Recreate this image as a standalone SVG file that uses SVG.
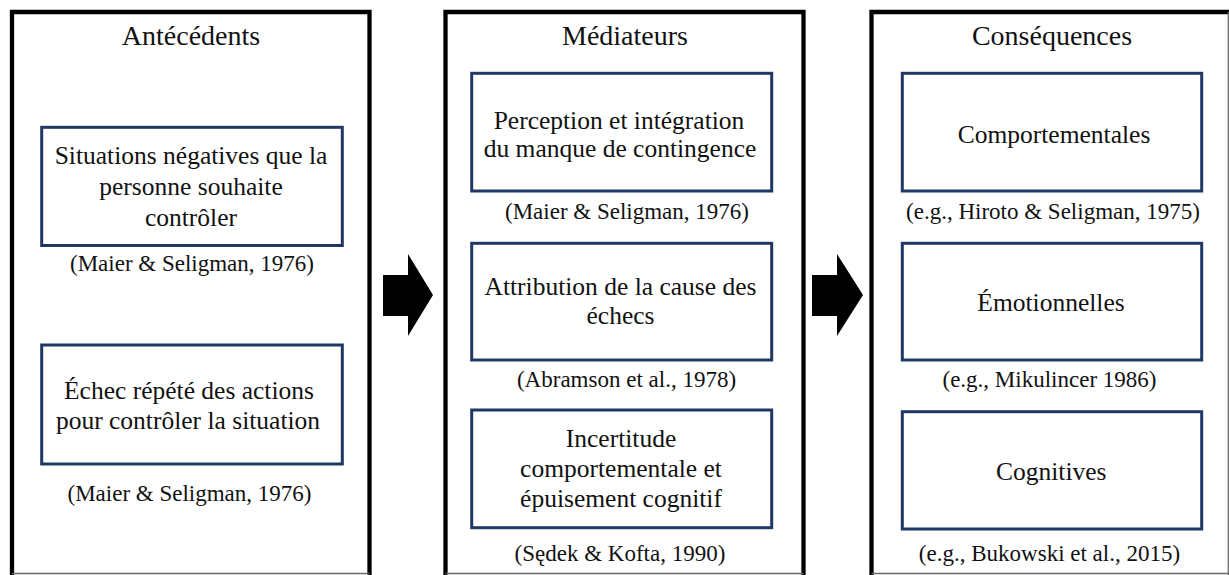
<svg xmlns="http://www.w3.org/2000/svg" width="1229" height="575" viewBox="0 0 1229 575">
<style>
.outer{fill:none;stroke:#000;stroke-width:4.3;stroke-linejoin:miter}
.edge{stroke:#6a6a6a;stroke-width:1.3;fill:none}
.box{fill:#fff;stroke:#1f3864;stroke-width:3}
text{font-family:"Liberation Serif","Times New Roman",serif;fill:#111;text-anchor:middle}
.title{font-size:28px}
.body{font-size:25.5px}
.cite{font-size:23px}
.arrow{fill:#000}
</style>
<rect width="1229" height="575" fill="#fff"/>

<g id="col-antecedents">
<path class="outer" d="M12,575 V12 H369.5 V575"/>
<line class="edge" x1="12" y1="573.5" x2="369.5" y2="573.5"/>
<text class="title" x="191" y="45">Antécédents</text>
</g>
<g id="col-mediateurs">
<path class="outer" d="M445.5,575 V12 H803.5 V575"/>
<line class="edge" x1="445.5" y1="573.5" x2="803.5" y2="573.5"/>
<text class="title" x="625" y="45">Médiateurs</text>
</g>
<g id="col-consequences">
<path class="outer" d="M871.5,575 V12 H1229"/>
<line class="edge" x1="871.5" y1="573.5" x2="1229" y2="573.5"/>
<line class="edge" x1="1228.3" y1="12" x2="1228.3" y2="575"/>
<text class="title" x="1052" y="45">Conséquences</text>
</g>

<g id="a1">
<rect class="box" x="41.7" y="127.3" width="300.6" height="118.2"/>
<text class="body" x="191" y="164.4">Situations négatives que la</text>
<text class="body" x="191" y="195.4">personne souhaite</text>
<text class="body" x="191" y="226.4">contrôler</text>
<text class="cite" x="192" y="271">(Maier &amp; Seligman, 1976)</text>
</g>
<g id="a2">
<rect class="box" x="41.7" y="345" width="300.6" height="119"/>
<text class="body" x="189" y="399">Échec répété des actions</text>
<text class="body" x="188" y="428.5">pour contrôler la situation</text>
<text class="cite" x="189.5" y="501">(Maier &amp; Seligman, 1976)</text>
</g>

<g id="m1">
<rect class="box" x="471.7" y="73.3" width="300" height="117.7"/>
<text class="body" x="619" y="128.5">Perception et intégration</text>
<text class="body" x="620" y="157">du manque de contingence</text>
<text class="cite" x="627" y="218.5">(Maier &amp; Seligman, 1976)</text>
</g>
<g id="m2">
<rect class="box" x="471.7" y="243.3" width="300" height="116.7"/>
<text class="body" x="620.5" y="294.5">Attribution de la cause des</text>
<text class="body" x="620.5" y="323.5">échecs</text>
<text class="cite" x="626.5" y="387">(Abramson et al., 1978)</text>
</g>
<g id="m3">
<rect class="box" x="471.7" y="410" width="300" height="117.7"/>
<text class="body" x="621" y="447.3">Incertitude</text>
<text class="body" x="621" y="477.3">comportementale et</text>
<text class="body" x="621" y="506.8">épuisement cognitif</text>
<text class="cite" x="620" y="560.5">(Sędek &amp; Kofta, 1990)</text>
</g>

<g id="c1">
<rect class="box" x="902.3" y="73.3" width="299.4" height="117.7"/>
<text class="body" x="1054" y="142.5">Comportementales</text>
<text class="cite" x="1053" y="218.5">(e.g., Hiroto &amp; Seligman, 1975)</text>
</g>
<g id="c2">
<rect class="box" x="902.3" y="243.3" width="299.4" height="116.7"/>
<text class="body" x="1051" y="310.5">Émotionnelles</text>
<text class="cite" x="1049.5" y="387">(e.g., Mikulincer 1986)</text>
</g>
<g id="c3">
<rect class="box" x="902.3" y="411.7" width="299.4" height="117.3"/>
<text class="body" x="1051.3" y="479.5">Cognitives</text>
<text class="cite" x="1049.5" y="560.5">(e.g., Bukowski et al., 2015)</text>
</g>

<g id="connectors">
<path class="arrow" d="M383,275 H408 V254 L433,295 L408,336 V316 H383 Z"/>
<path class="arrow" d="M812,275 H837 V254 L863,295 L837,336 V316 H812 Z"/>
</g>
</svg>
